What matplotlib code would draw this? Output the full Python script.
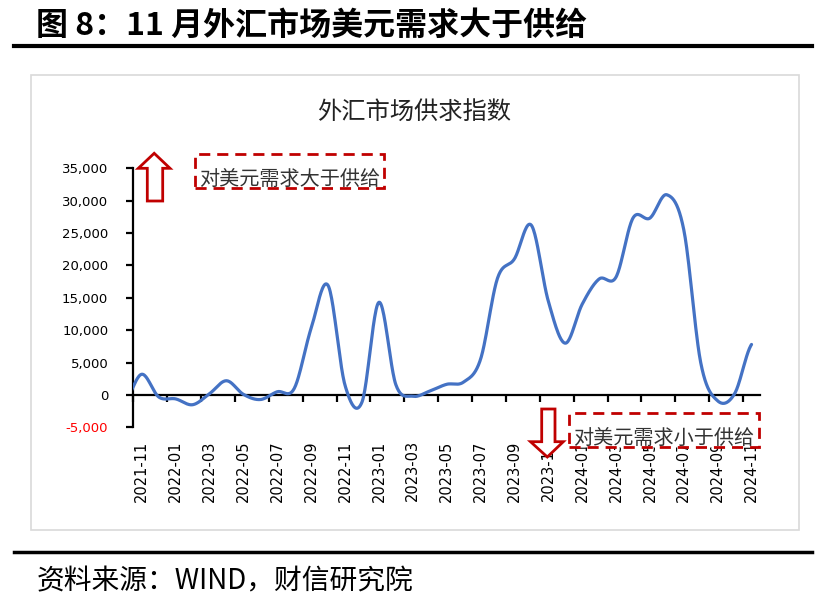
import numpy as np
import pandas as pd
import matplotlib
matplotlib.use("Agg")
import matplotlib.pyplot as plt
from matplotlib.patches import Polygon, Rectangle
from matplotlib.lines import Line2D
import matplotlib.transforms as mtransforms

plt.rcParams['font.family'] = ['Noto Sans CJK SC', 'DejaVu Sans']

# monthly index, first month (2021-10) only partly visible at the left edge
months = [str(p) for p in pd.period_range('2021-10', '2024-11', freq='M')]
values = [-1000,
          3200, -300, -600, -1500, 200, 2200, 100, -700, 500, 1000,
          10300, 16900, 1500, -1100, 14300, 1600, -200, 600, 1650, 2000,
          5500, 18000, 21000, 26200, 14500, 8000, 14000, 17900, 18200, 27300,
          27300, 30900, 25500, 5000, -900, 200, 7800]
yticks = [-5000, 0, 5000, 10000, 15000, 20000, 25000, 30000, 35000]

W, H = 836, 610


def fx(x):
    return x / W


def fy(y):
    return 1 - y / H


def smooth(xs, ys, n=24):
    # catmull-rom style smoothing, like excel's smoothed line
    xs = np.asarray(xs, float)
    ys = np.asarray(ys, float)
    m = np.zeros_like(ys)
    m[1:-1] = (ys[2:] - ys[:-2]) / 2
    m[0] = (ys[1] - ys[0]) / 2
    m[-1] = (ys[-1] - ys[-2]) / 2
    ox, oy = [], []
    for k in range(len(xs) - 1):
        t = np.linspace(0, 1, n, endpoint=False)
        h00 = 2 * t**3 - 3 * t**2 + 1
        h10 = t**3 - 2 * t**2 + t
        h01 = -2 * t**3 + 3 * t**2
        h11 = t**3 - t**2
        ox.append(xs[k] + t * (xs[k + 1] - xs[k]))
        oy.append(h00 * ys[k] + h10 * m[k] + h01 * ys[k + 1] + h11 * m[k + 1])
    ox.append([xs[-1]])
    oy.append([ys[-1]])
    return np.concatenate(ox), np.concatenate(oy)


fig = plt.figure(figsize=(W / 100, H / 100), dpi=100)

# header and rules
fig.text(fx(36), fy(26), '图 8：11 月外汇市场美元需求大于供给', fontsize=23,
         fontweight='bold', va='center', ha='left')
fig.add_artist(Line2D([fx(14), fx(812)], [fy(46), fy(46)], color='black', lw=3))
fig.add_artist(Line2D([fx(14), fx(812)], [fy(552), fy(552)], color='black', lw=2.5))
fig.text(fx(37), fy(581), '资料来源：WIND，财信研究院', fontsize=20,
         style='italic', va='center', ha='left')

# chart frame
fig.add_artist(Rectangle((fx(31), fy(530)), fx(799) - fx(31), fy(75) - fy(530),
                         fill=False, edgecolor='#D9D9D9', lw=1.2, zorder=0))
fig.text(fx(414), fy(112), '外汇市场供求指数', fontsize=17.5, va='center', ha='center',
         color='#222222')

ax = fig.add_axes([fx(133.3), fy(427.4), fx(760) - fx(133.3), fy(168.2) - fy(427.4)])

xs = np.arange(len(values)) - 0.5
sx, sy = smooth(xs, values)
ax.plot(sx, sy, color='#4472C4', lw=2.3, solid_capstyle='round', zorder=3)

ax.set_xlim(0, len(values) - 1)
ax.set_ylim(-5000, 35000)

for s in ['top', 'right']:
    ax.spines[s].set_visible(False)
ax.spines['bottom'].set_position(('data', 0))
ax.spines['bottom'].set_linewidth(1.6)
ax.spines['left'].set_linewidth(1.6)

ax.set_xticks(np.arange(0, len(values) - 1, 2))
ax.set_xticklabels([])
ax.tick_params(axis='x', direction='out', length=5, width=1.6)

ax.set_yticks(yticks)
ax.set_yticklabels([f'{v:,}' for v in yticks], fontfamily='DejaVu Sans', fontsize=9.5)
ax.tick_params(axis='y', direction='out', length=5, width=1.6, pad=13)
ax.get_yticklabels()[0].set_color('red')

# month labels at category centres
trans = mtransforms.blended_transform_factory(ax.transData, ax.transAxes)
for k in range(1, len(months), 2):
    ax.text(xs[k], -0.05, months[k], transform=trans, rotation=90, ha='center',
            va='top', fontsize=10.5, fontfamily='DejaVu Sans', clip_on=False)

red = '#C00000'

# up arrow + dashed box
up = [(154.2, 153.3), (170, 168.3), (162.7, 168.3), (162.7, 201), (147.3, 201),
      (147.3, 168.3), (138.3, 168.3)]
fig.add_artist(Polygon([(fx(a), fy(b)) for a, b in up], closed=True, facecolor='white',
                       edgecolor=red, lw=2, zorder=5))
fig.add_artist(Rectangle((fx(195), fy(188)), fx(384) - fx(195), fy(154) - fy(188),
                         facecolor='white', edgecolor=red, lw=2,
                         linestyle=(0, (4, 2.5)), zorder=5))
fig.text(fx(290), fy(179), '对美元需求大于供给', fontsize=14.5, ha='center', va='center',
         color='#333333', zorder=6)

# down arrow + dashed box
down = [(541.7, 409), (555, 409), (555, 441.7), (563.3, 441.7), (547.3, 457),
        (530.5, 441.7), (541.7, 441.7)]
fig.add_artist(Polygon([(fx(a), fy(b)) for a, b in down], closed=True, facecolor='white',
                       edgecolor=red, lw=2, zorder=5))
fig.add_artist(Rectangle((fx(569), fy(447)), fx(759) - fx(569), fy(413) - fy(447),
                         facecolor='white', edgecolor=red, lw=2,
                         linestyle=(0, (4, 2.5)), zorder=5))
fig.text(fx(664), fy(438), '对美元需求小于供给', fontsize=14.5, ha='center', va='center',
         color='#333333', zorder=6)

fig.savefig('out.png', dpi=100)
